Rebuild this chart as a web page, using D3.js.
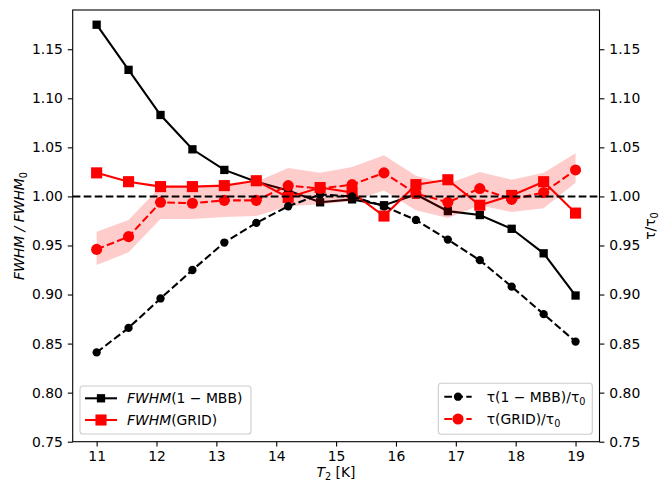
<!DOCTYPE html>
<html><head><meta charset="utf-8">
<script src="https://cdn.jsdelivr.net/npm/d3@7"></script>
<style>
html,body{margin:0;padding:0;background:#fff;}
text{font-family:"DejaVu Sans",sans-serif;}
</style></head>
<body><svg id="c" width="661" height="482"></svg>
<script>
// ---- data ----
const T2 = [11, 11.533, 12.067, 12.6, 13.133, 13.667, 14.2, 14.733, 15.267, 15.8, 16.333, 16.867, 17.4, 17.933, 18.467, 19];
const fwhmMBB  = [1.175, 1.129, 1.083, 1.048, 1.027, 1.015, 1.006, 0.994, 0.997, 0.991, 1.002, 0.985, 0.981, 0.967, 0.942, 0.899];
const fwhmGRID = [1.024, 1.015, 1.010, 1.010, 1.011, 1.016, 0.999, 1.009, 1.004, 0.980, 1.012, 1.017, 0.991, 1.001, 1.015, 0.983];
const tauMBB   = [0.841, 0.866, 0.896, 0.925, 0.953, 0.973, 0.990, 1.002, 1.000, 0.990, 0.976, 0.956, 0.935, 0.908, 0.880, 0.852];
const tauGRID  = [0.946, 0.959, 0.994, 0.993, 0.996, 0.996, 1.011, 1.008, 1.012, 1.024, 1.003, 0.994, 1.008, 0.997, 1.004, 1.027];
const tauGRIDlo = [0.930, 0.943, 0.977, 0.977, 0.979, 0.980, 0.990, 0.992, 0.995, 1.006, 0.986, 0.978, 0.991, 0.984, 0.988, 1.014];
const tauGRIDhi = [0.964, 0.976, 1.010, 1.010, 1.012, 1.015, 1.029, 1.024, 1.030, 1.042, 1.021, 1.013, 1.025, 1.017, 1.024, 1.044];
const xTicks = [11, 12, 13, 14, 15, 16, 17, 18, 19];
const yTicks = [0.75, 0.80, 0.85, 0.90, 0.95, 1.00, 1.05, 1.10, 1.15];

const svg = d3.select("#c");
const L = 72.7, R = 599.5, T = 10, B = 441.7;
const x = d3.scaleLinear().domain([10.6, 19.4]).range([L, R]);
const yL = d3.scaleLinear().domain([0.75, 1.19]).range([B, T]);
const yR = d3.scaleLinear().domain([0.75, 1.19]).range([B, T]);
const FS = 13.9;
const LW = 2.08;
const DASH = "7.7,3.3";

svg.append("defs").append("clipPath").attr("id","cp")
  .append("rect").attr("x",L).attr("y",T).attr("width",R-L).attr("height",B-T);
const plot = svg.append("g").attr("clip-path","url(#cp)");

function series(g, xs, ys, yScale, color, dash, marker, msize){
  const line = d3.line().x((d,i)=>x(xs[i])).y(d=>yScale(d));
  g.append("path").attr("d", line(ys)).attr("fill","none").attr("stroke",color)
    .attr("stroke-width",LW).attr("stroke-dasharray",dash||null);
  ys.forEach((v,i)=>{
    if(marker==="s"){
      g.append("rect").attr("x",x(xs[i])-msize/2).attr("y",yScale(v)-msize/2)
        .attr("width",msize).attr("height",msize).attr("fill",color);
    } else {
      g.append("circle").attr("cx",x(xs[i])).attr("cy",yScale(v)).attr("r",msize/2).attr("fill",color);
    }
  });
}
// ax1
series(plot, T2, fwhmMBB, yL, "#000", null, "s", 8.3);
series(plot, T2, fwhmGRID, yL, "#ff0000", null, "s", 11.1);
// ax2
const area = d3.area().x((d,i)=>x(T2[i])).y0((d,i)=>yR(tauGRIDlo[i])).y1((d,i)=>yR(tauGRIDhi[i]));
plot.append("path").attr("d", area(T2)).attr("fill","#ff0000").attr("fill-opacity",0.2);
series(plot, T2, tauMBB, yR, "#000", DASH, "o", 8.3);
series(plot, T2, tauGRID, yR, "#ff0000", DASH, "o", 11.1);
plot.append("line").attr("x1",L).attr("x2",R).attr("y1",yR(1)).attr("y2",yR(1))
  .attr("stroke","#000").attr("stroke-width",LW).attr("stroke-dasharray",DASH);

// spines
svg.append("rect").attr("x",L).attr("y",T).attr("width",R-L).attr("height",B-T)
  .attr("fill","none").attr("stroke","#000").attr("stroke-width",1.1);

// axes
const ax = d3.axisBottom(x).tickValues(xTicks).tickFormat(d3.format("d")).tickSize(4.9).tickPadding(4.9);
const ayl = d3.axisLeft(yL).tickValues(yTicks).tickFormat(d3.format(".2f")).tickSize(4.9).tickPadding(4.9);
const ayr = d3.axisRight(yR).tickValues(yTicks).tickFormat(d3.format(".2f")).tickSize(4.9).tickPadding(4.9);
function styleAxis(g){
  g.select(".domain").remove();
  g.selectAll(".tick line").attr("stroke","#000").attr("stroke-width",1.1);
  g.selectAll(".tick text").attr("fill","#000").style("font-size",FS+"px").style("font-family","DejaVu Sans");
}
svg.append("g").attr("transform",`translate(0,${B})`).call(ax).call(styleAxis);
svg.append("g").attr("transform",`translate(${L},0)`).call(ayl).call(styleAxis);
svg.append("g").attr("transform",`translate(${R},0)`).call(ayr).call(styleAxis);

// axis labels
const xl = svg.append("text").attr("x",336).attr("y",477).attr("text-anchor","middle").style("font-size",FS+"px");
xl.append("tspan").attr("font-style","italic").text("T");
xl.append("tspan").attr("dy",2.5).style("font-size",(FS*0.7)+"px").text("2");
xl.append("tspan").attr("dy",-2.5).text(" [K]");

const ylab = svg.append("text").attr("transform","translate(24,226) rotate(-90)").attr("text-anchor","middle").style("font-size",FS+"px");
ylab.append("tspan").attr("font-style","italic").text("FWHM / FWHM");
ylab.append("tspan").attr("dy",3).style("font-size",(FS*0.7)+"px").text("0");

const yrl = svg.append("text").attr("transform","translate(655,226) rotate(-90)").attr("text-anchor","middle").style("font-size",FS+"px");
yrl.append("tspan").text("τ/τ");
yrl.append("tspan").attr("dy",3).style("font-size",(FS*0.7)+"px").text("0");

// legends
function legendBox(x0,y0,w,h){
  svg.append("rect").attr("x",x0).attr("y",y0).attr("width",w).attr("height",h).attr("rx",3)
    .attr("fill","#fff").attr("fill-opacity",0.8).attr("stroke","#cccccc").attr("stroke-width",1.1);
}
function legendEntry(x1,x2,yc,color,dash,marker,msize,tx,parts){
  svg.append("line").attr("x1",x1).attr("x2",x2).attr("y1",yc).attr("y2",yc)
    .attr("stroke",color).attr("stroke-width",LW).attr("stroke-dasharray",dash||null);
  const cx=(x1+x2)/2;
  if(marker==="s") svg.append("rect").attr("x",cx-msize/2).attr("y",yc-msize/2).attr("width",msize).attr("height",msize).attr("fill",color);
  else svg.append("circle").attr("cx",cx).attr("cy",yc).attr("r",msize/2).attr("fill",color);
  const t = svg.append("text").attr("x",tx).attr("y",yc+5).style("font-size",FS+"px");
  parts.forEach(p=>{
    const s=t.append("tspan").text(p.t);
    if(p.i) s.attr("font-style","italic");
    if(p.sub) s.attr("dy",3).style("font-size",(FS*0.7)+"px");
  });
}
legendBox(80,386,171,48);
legendEntry(85,117,398.3,"#000",null,"s",8.3,127,[{t:"FWHM",i:true},{t:"(1 − MBB)"}]);
legendEntry(85,117,420,"#ff0000",null,"s",11.1,127,[{t:"FWHM",i:true},{t:"(GRID)"}]);
legendBox(438.3,383.3,154,51);
legendEntry(444.3,471.7,396.7,"#000",DASH,"o",8.3,486.7,[{t:"τ(1 − MBB)/τ"},{t:"0",sub:true}]);
legendEntry(444.3,471.7,419,"#ff0000",DASH,"o",11.1,486.7,[{t:"τ(GRID)/τ"},{t:"0",sub:true}]);
</script></body></html>
